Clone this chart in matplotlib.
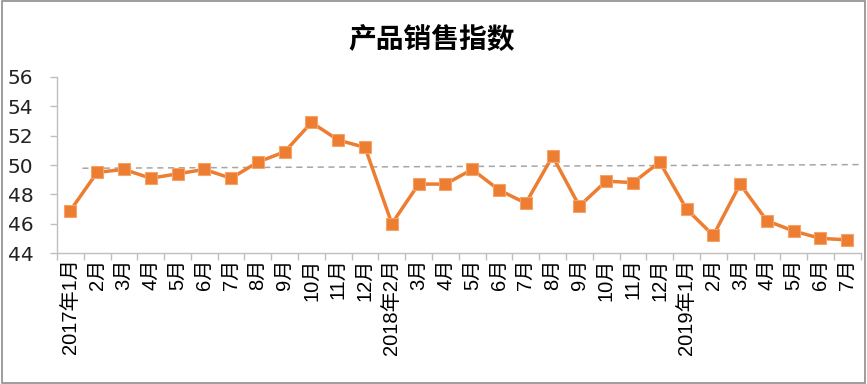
import matplotlib
matplotlib.use("Agg")
import matplotlib.pyplot as plt
from matplotlib.patches import Rectangle
import numpy as np

title = "产品销售指数"
labels = ["2017年1月", "2月", "3月", "4月", "5月", "6月", "7月", "8月", "9月", "10月", "11月", "12月",
          "2018年2月", "3月", "4月", "5月", "6月", "7月", "8月", "9月", "10月", "11月", "12月",
          "2019年1月", "2月", "3月", "4月", "5月", "6月", "7月"]
values = [46.9, 49.5, 49.7, 49.1, 49.4, 49.7, 49.1, 50.2, 50.9, 52.9, 51.7, 51.2,
          46.0, 48.7, 48.7, 49.7, 48.3, 47.4, 50.6, 47.2, 48.9, 48.8, 50.2,
          47.0, 45.2, 48.7, 46.2, 45.5, 45.0, 44.9]
trend_values = [49.78, 50.03]

fig = plt.figure(figsize=(8.67, 3.84), dpi=100)
ax = fig.add_axes([0.0657, 0.341, 0.927, 0.4585])

x = np.arange(len(values))
ax.plot([0.45, len(values) - 0.5], trend_values, color="#A6A6A6", lw=1.1, ls=(0, (4, 3)), zorder=2)
ax.plot(x, values, color="#ED7D31", lw=2.5, marker="s", ms=8.5, mfc="#ED7D31", mec="#F4A46A", mew=0.8, zorder=3)

ax.set_xlim(-0.5, len(values) - 0.5)
ax.set_ylim(44, 56)
ax.set_yticks(np.arange(44, 57, 2))
ax.set_yticklabels([str(v) for v in range(44, 57, 2)], fontsize=14.5, family="DejaVu Sans", color="#222222")
ax.set_xticks(x)
ax.set_xticklabels(labels, rotation=90, fontsize=14.5, family=["Liberation Sans", "Noto Sans CJK SC"])
ax.set_xticks(np.arange(-0.5, len(values)), minor=True)
ax.tick_params(axis="x", which="major", length=0, pad=4)
ax.tick_params(axis="x", which="minor", length=5, color="#BFBFBF", width=1)
ax.tick_params(axis="y", length=5, color="#BFBFBF", width=1, pad=12)

for s in ["top", "right"]:
    ax.spines[s].set_visible(False)
for s in ["left", "bottom"]:
    ax.spines[s].set_color("#BFBFBF")
    ax.spines[s].set_linewidth(1)

fig.text(0.498, 0.895, title, ha="center", va="center", fontsize=20, fontweight="bold",
         family=["Noto Sans CJK SC", "DejaVu Sans"])

fig.patches.append(Rectangle((0.002, 0.003), 0.996, 0.994, transform=fig.transFigure,
                             fill=False, edgecolor="#8C8C8C", lw=1.2))

fig.savefig("out.png", dpi=100)
